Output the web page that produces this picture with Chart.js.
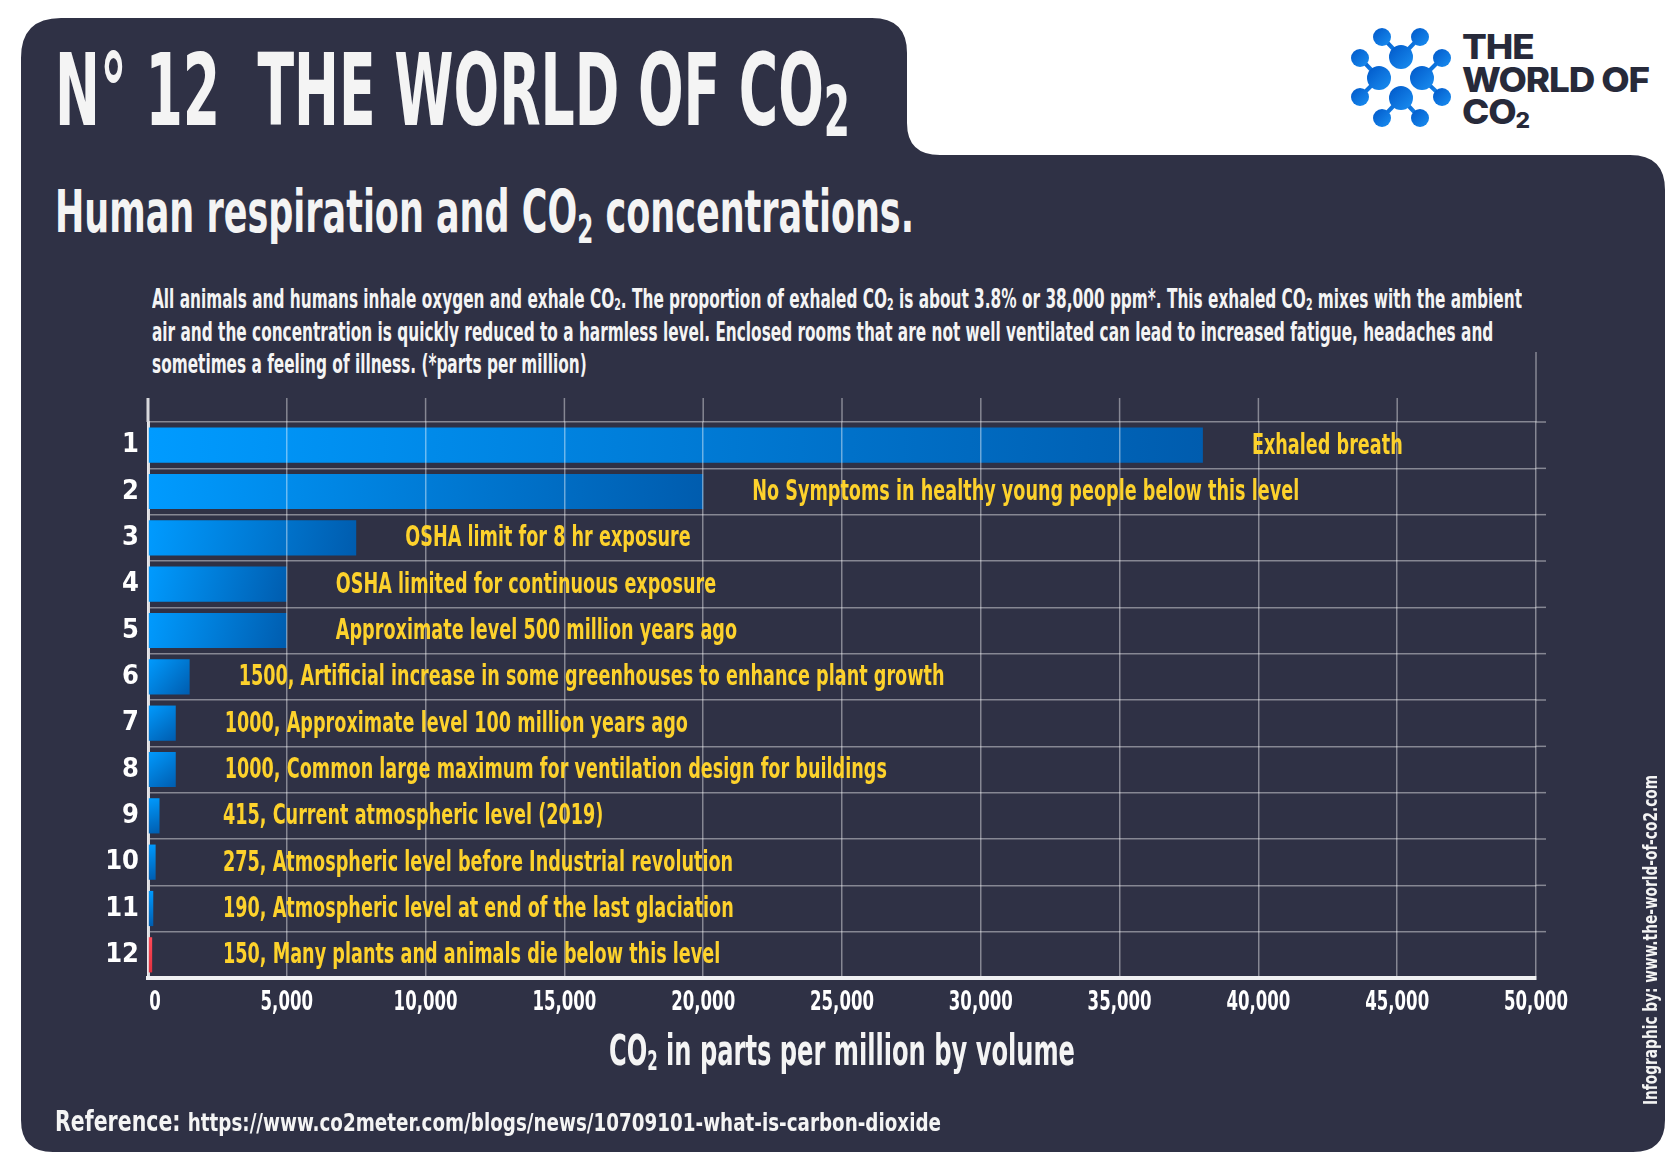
<!DOCTYPE html>
<html>
<head>
<meta charset="utf-8">
<title>Human respiration and CO2 concentrations</title>
<script src="https://cdn.jsdelivr.net/npm/chart.js@4.4.1/dist/chart.umd.min.js"></script>
<style>
  html, body { margin: 0; padding: 0; background: #fff; }
  #page {
    position: relative; width: 1672px; height: 1154px; overflow: hidden;
    font-family: 'Liberation Sans Narrow', 'DejaVu Sans Condensed', 'Arial Narrow', sans-serif;
    font-weight: bold; color: #f4f4f4;
  }
  #panel, #chartBox { position: absolute; left: 0; top: 0; }
  .txt { position: absolute; white-space: nowrap; line-height: 1; transform-origin: 0 0; display: inline-block; }
  .sub { position: relative; }
  .logo { font-family: Inter, 'Noto Sans', sans-serif; font-weight: 800; color: #272a3a; font-size: 34px; letter-spacing: -1px; }
</style>
</head>
<body>
<div id="page">
  <svg id="panel" width="1672" height="1154">
    <defs>
      <linearGradient id="mol" x1="0" y1="0" x2="1" y2="1">
        <stop offset="0" stop-color="#0057c8"/>
        <stop offset="1" stop-color="#1a8ff2"/>
      </linearGradient>
    </defs>
    <path fill="#2f3145" d="M61,18 H872 Q907,18 907,53 V123 Q907,155 940,155 H1630 Q1665,155 1665,190 V1120 Q1665,1152 1633,1152 H53 Q21,1152 21,1120 V58 Q21,18 61,18 Z"/>
    <g stroke="url(#mol)" stroke-width="4" fill="url(#mol)">
      <line x1="1401" y1="57" x2="1382" y2="37"/><line x1="1401" y1="57" x2="1420" y2="37"/>
      <line x1="1379" y1="78" x2="1360" y2="58"/><line x1="1379" y1="78" x2="1360" y2="97"/>
      <line x1="1422" y1="78" x2="1442" y2="58"/><line x1="1422" y1="78" x2="1442" y2="97"/>
      <line x1="1401" y1="98" x2="1382" y2="118"/><line x1="1401" y1="98" x2="1420" y2="118"/>
      <g stroke="none">
        <circle cx="1382" cy="37" r="9"/><circle cx="1420" cy="37" r="9"/>
        <circle cx="1360" cy="58" r="9"/><circle cx="1442" cy="58" r="9"/>
        <circle cx="1360" cy="97" r="9"/><circle cx="1442" cy="97" r="9"/>
        <circle cx="1382" cy="118" r="9"/><circle cx="1420" cy="118" r="9"/>
        <circle cx="1401" cy="57" r="12"/><circle cx="1379" cy="78" r="12"/>
        <circle cx="1422" cy="78" r="12"/><circle cx="1401" cy="98" r="12"/>
      </g>
    </g>
  </svg>

  <div class="txt logo" id="logo1" style="left:1462px; top:30px;">THE</div>
  <div class="txt logo" id="logo2" style="left:1462px; top:63px;">WORLD OF</div>
  <div class="txt logo" id="logo3" style="left:1462px; top:95px;">CO<span class="sub" style="font-size:0.62em; top:0.2em;">2</span></div>

  <div class="txt" id="title" style="left:55px; top:41px; font-size:100px;">N° 12&nbsp;&nbsp;THE WORLD OF CO<span class="sub" style="font-size:0.7em; top:0.16em;">2</span></div>
  <div class="txt" id="subtitle" style="left:55px; top:183px; font-size:58px;">Human respiration and CO<span class="sub" style="font-size:0.66em; top:0.3em;">2</span> concentrations.</div>

  <div class="txt para" id="para1" style="left:152px; top:286px; font-size:26px;">All animals and humans inhale oxygen and exhale CO<span class="sub" style="font-size:0.62em; top:0.15em;">2</span>. The proportion of exhaled CO<span class="sub" style="font-size:0.62em; top:0.15em;">2</span> is about 3.8% or 38,000 ppm*. This exhaled CO<span class="sub" style="font-size:0.62em; top:0.15em;">2</span> mixes with the ambient</div>
  <div class="txt para" id="para2" style="left:152px; top:319px; font-size:26px;">air and the concentration is quickly reduced to a harmless level. Enclosed rooms that are not well ventilated can lead to increased fatigue, headaches and</div>
  <div class="txt para" id="para3" style="left:152px; top:351px; font-size:26px;">sometimes a feeling of illness. (*parts per million)</div>

  <canvas id="chartBox" width="1672" height="1154"></canvas>

  <div class="txt" id="xTitle" style="left:609px; top:1030px; font-size:42px;">CO<span class="sub" style="font-size:0.62em; top:0.2em;">2</span> in parts per million by volume</div>
  <div class="txt" id="reference" style="left:55px; top:1108px; font-size:28px;">Reference: <span style="font-size:25px;">https://www.co2meter.com/blogs/news/10709101-what-is-carbon-dioxide</span></div>
  <div class="txt" id="credit" style="left:1650px; top:1105px; font-size:20px;">Infographic by: www.the-world-of-co2.com</div>
</div>

<script>
// values (ppm)
const categories = ['1', '2', '3', '4', '5', '6', '7', '8', '9', '10', '11', '12'];
const co2Ppm = [38000, 20000, 7500, 5000, 5000, 1500, 1000, 1000, 415, 275, 190, 150];
const notes = [
  'Exhaled breath',
  'No Symptoms in healthy young people below this level',
  'OSHA limit for 8 hr exposure',
  'OSHA limited for continuous exposure',
  'Approximate level 500 million years ago',
  '1500, Artificial increase in some greenhouses to enhance plant growth',
  '1000, Approximate level 100 million years ago',
  '1000, Common large maximum for ventilation design for buildings',
  '415, Current atmospheric level (2019)',
  '275, Atmospheric level before Industrial revolution',
  '190, Atmospheric level at end of the last glaciation',
  '150, Many plants and animals die below this level'
];
const xTicks = [0, 5000, 10000, 15000, 20000, 25000, 30000, 35000, 40000, 45000, 50000];
const dangerBar = 11; // the red one

const FONT = "'Liberation Sans Narrow', 'DejaVu Sans Condensed', 'Arial Narrow', sans-serif";
const gridColor = 'rgba(255,255,255,0.42)';

// squeeze a text block horizontally so it spans the given width
function fit(el, w, extra) {
  const k = w / el.getBoundingClientRect().width;
  el.style.transform = (extra || '') + ' scaleX(' + k + ')';
  return k;
}

function barFill(ctx) {
  const chart = ctx.chart;
  if (!chart.chartArea) return '#0088ee';
  const xs = chart.scales.x, ys = chart.scales.y;
  const x0 = xs.getPixelForValue(0);
  const x1 = xs.getPixelForValue(ctx.raw);
  const yc = ys.getPixelForValue(ctx.dataIndex);
  const g = chart.ctx.createLinearGradient(x0, yc - 18, Math.max(x1, x0 + 4), yc + 18);
  if (ctx.dataIndex === dangerBar) {
    g.addColorStop(0, '#ff4a58');
    g.addColorStop(1, '#e0303e');
  } else {
    g.addColorStop(0, '#009bff');
    g.addColorStop(1, '#005cae');
  }
  return g;
}

// grid bits that stick out of the plot area in the original
const gridExtras = {
  id: 'gridExtras',
  afterDraw(chart) {
    const c = chart.ctx, a = chart.chartArea, xs = chart.scales.x, ys = chart.scales.y;
    c.save();
    c.strokeStyle = gridColor;
    c.lineWidth = 1.5;
    xTicks.forEach(v => {
      if (v === 0) return;
      const x = xs.getPixelForValue(v);
      c.beginPath();
      c.moveTo(x, v === 50000 ? a.top - 70 : a.top - 24);
      c.lineTo(x, a.top);
      c.stroke();
    });
    for (let i = 0; i < categories.length; i++) {
      const y = ys.getPixelForValue(i - 0.5);
      c.beginPath();
      c.moveTo(a.right, y);
      c.lineTo(a.right + 10, y);
      c.stroke();
    }
    c.strokeStyle = '#d8d8dc';
    c.lineWidth = 3;
    c.beginPath();
    c.moveTo(a.left, a.top - 24);
    c.lineTo(a.left, a.top);
    c.stroke();
    c.restore();
  }
};

// condensed tick numbers under the x axis (the original uses a narrow face)
const xTickText = {
  id: 'xTickText',
  afterDraw(chart) {
    const c = chart.ctx, a = chart.chartArea, xs = chart.scales.x;
    c.save();
    c.font = 'bold 27px ' + FONT;
    c.fillStyle = '#ffffff';
    c.textBaseline = 'middle';
    c.textAlign = 'center';
    const k = 64 / c.measureText('10,000').width;
    xTicks.forEach(v => {
      c.save();
      c.translate(xs.getPixelForValue(v) + (v === 0 ? 7 : 0), a.bottom + 25);
      c.scale(k, 1);
      c.fillText(v.toLocaleString('en-US'), 0, 0);
      c.restore();
    });
    c.restore();
  }
};

const noteLabels = {
  id: 'noteLabels',
  afterDraw(chart) {
    const c = chart.ctx;
    const meta = chart.getDatasetMeta(0);
    c.save();
    c.font = 'bold 29px ' + FONT;
    c.fillStyle = '#fdd22c';
    c.textBaseline = 'middle';
    const k = 547 / c.measureText(notes[1]).width;
    meta.data.forEach((bar, i) => {
      const x = Math.max(bar.x + 49, 223);
      c.save();
      c.translate(x, bar.y + 1);
      c.scale(k, 1);
      c.fillText(notes[i], 0, 0);
      c.restore();
    });
    c.restore();
  }
};

function build() {
  fit(document.getElementById('title'), 795);
  fit(document.getElementById('subtitle'), 859);
  const k = fit(document.getElementById('para1'), 1370);
  ['para2', 'para3'].forEach(id => {
    document.getElementById(id).style.transform = 'scaleX(' + k + ')';
  });
  fit(document.getElementById('xTitle'), 466);
  fit(document.getElementById('reference'), 886);
  fit(document.getElementById('credit'), 330, 'rotate(-90deg) translateY(-50%)');
  const kl = fit(document.getElementById('logo2'), 187);
  ['logo1', 'logo3'].forEach(id => {
    document.getElementById(id).style.transform = 'scaleX(' + kl + ')';
  });

  new Chart(document.getElementById('chartBox'), {
    type: 'bar',
    data: {
      labels: categories,
      datasets: [{
        data: co2Ppm,
        backgroundColor: barFill,
        borderWidth: 0,
        barPercentage: 0.76,
        categoryPercentage: 1
      }]
    },
    options: {
      indexAxis: 'y',
      responsive: false,
      animation: false,
      layout: { padding: { left: 0, top: 422, right: 136, bottom: 0 } },
      plugins: { legend: { display: false }, tooltip: { enabled: false } },
      scales: {
        x: {
          min: 0,
          max: 50000,
          afterBuildTicks: s => { s.ticks = xTicks.map(v => ({ value: v })); },
          afterFit: s => { s.height = 176; },
          grid: { color: gridColor, lineWidth: 1.5, drawTicks: false, z: 1 },
          border: { color: '#f0f0f2', width: 4, z: 1 },
          ticks: { display: false }
        },
        y: {
          afterFit: s => { s.width = 148; },
          grid: { color: gridColor, lineWidth: 1.5, drawTicks: false, offset: true },
          border: { color: '#d8d8dc', width: 3 },
          ticks: {
            color: '#ffffff',
            font: { family: FONT, size: 27, weight: 'bold' },
            padding: 9
          }
        }
      }
    },
    plugins: [gridExtras, xTickText, noteLabels]
  });
}

document.fonts.ready.then(build);
</script>
</body>
</html>
